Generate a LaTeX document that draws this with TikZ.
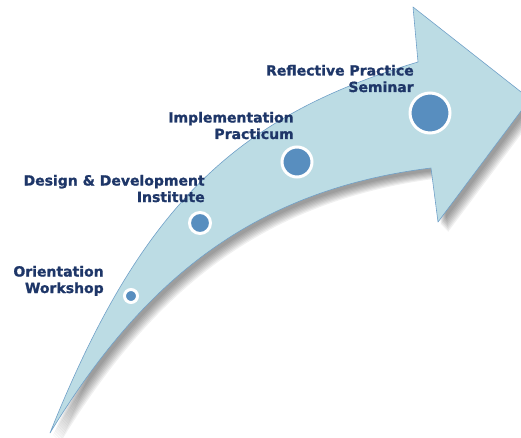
\documentclass[tikz,border=0pt]{standalone}
\usepackage{fontspec}
\setmainfont{DejaVu Sans}[BoldFeatures={FakeBold=1.2}]
\usepackage{tkz-euclide}

\definecolor{arrowfill}{RGB}{188,220,228}
\definecolor{arrowline}{RGB}{112,160,200}
\definecolor{dotfill}{RGB}{88,142,191}
\definecolor{labelblue}{RGB}{30,54,104}

\tikzset{
  stage/.style={circle, fill=dotfill, draw=white, line width=3pt, inner sep=0pt},
  stagelabel/.style={align=right, inner sep=0pt, text=labelblue,
    font=\bfseries\fontsize{14}{16.5}\selectfont, anchor=base east},
}
\newcommand\bigarrow{(T) .. controls (U1) and (U2) .. (N) -- (B) -- (P)
  -- (C) -- (M) .. controls (L1) and (L2) .. cycle}

\begin{document}
\begin{tikzpicture}[x=1pt, y=-1pt, semithick]
  \useasboundingbox (0,0) rectangle (521,438);
  \clip (0,0) rectangle (521,438);

  \tkzDefPoints{50/433/T, 142/203/U1, 238/116/U2, 418/62/N, 413/7/B,
    530/99/P, 438/222/C, 431/168/M, 252/190/L1, 142/282/L2}

  % soft shadow
  \foreach \d in {3,4,...,10}{
    \begin{scope}[transform canvas={shift={(\d,\d)}}]
      \fill[black, opacity=.06] \bigarrow;
    \end{scope}
  }

  \filldraw[fill=arrowfill, draw=arrowline, line join=round] \bigarrow;

  \node[stage, minimum size=13pt] (orient) at (131,296) {};
  \node[stage, minimum size=21pt] (design) at (200,223) {};
  \node[stage, minimum size=30pt] (implement) at (297,162) {};
  \node[stage, minimum size=40pt] (reflect) at (430,113) {};

  \node[stagelabel] (orientlbl) at (104,293) {Orientation\\Workshop};
  \node[stagelabel] (designlbl) at (205,202) {Design \& Development\\Institute};
  \node[stagelabel] (implementlbl) at (294,139) {Implementation\\Practicum};
  \node[stagelabel] (reflectlbl) at (414,92) {Reflective Practice\\Seminar};
\end{tikzpicture}
\end{document}
